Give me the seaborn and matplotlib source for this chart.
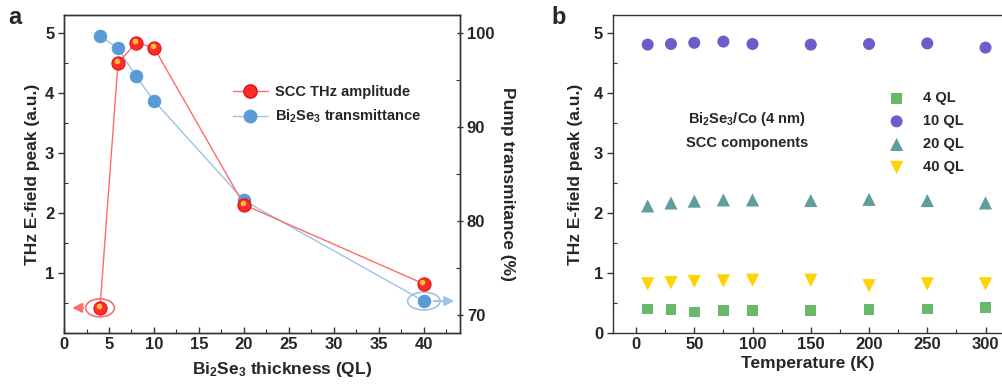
import matplotlib
matplotlib.use("Agg")
import matplotlib.pyplot as plt
import numpy as np
import pandas as pd
import seaborn as sns
from matplotlib.patches import Ellipse
from matplotlib.lines import Line2D
from matplotlib.ticker import AutoMinorLocator

sns.set_style("ticks")
plt.rcParams["font.family"] = ["Liberation Sans", "DejaVu Sans"]
plt.rcParams["font.weight"] = "bold"
plt.rcParams["axes.labelweight"] = "bold"
plt.rcParams["mathtext.fontset"] = "custom"
plt.rcParams["mathtext.rm"] = "Liberation Sans:bold"
plt.rcParams["mathtext.bf"] = "Liberation Sans:bold"
plt.rcParams["mathtext.default"] = "bf"

# panel a data
thickness = [4, 6, 8, 10, 20, 40]
scc_amp = [0.42, 4.50, 4.84, 4.76, 2.14, 0.82]
transmittance = [99.7, 98.4, 95.4, 92.8, 82.2, 71.5]

# panel b data
temps = [10, 30, 50, 75, 100, 150, 200, 250, 300]
ql4 = [0.40, 0.39, 0.35, 0.38, 0.37, 0.37, 0.39, 0.40, 0.42]
ql10 = [4.81, 4.82, 4.84, 4.86, 4.82, 4.81, 4.82, 4.83, 4.76]
ql20 = [2.12, 2.17, 2.20, 2.22, 2.22, 2.21, 2.23, 2.21, 2.17]
ql40 = [0.82, 0.84, 0.86, 0.87, 0.88, 0.88, 0.79, 0.82, 0.82]
series_names = ["4 QL", "10 QL", "20 QL", "40 QL"]

red = "#ff2a2a"
red_line = "#ff6b6b"
blue = "#5b9bd5"
blue_line = "#9fc2e7"

fig = plt.figure(figsize=(10.02, 3.9), dpi=100)
ax = fig.add_axes([0.0639, 0.146, 0.395, 0.815])
ax2 = ax.twinx()
axb = fig.add_axes([0.6115, 0.146, 0.3895, 0.815])

# ---- panel a ----
dfa = pd.DataFrame({"x": thickness, "amp": scc_amp, "tr": transmittance})
sns.lineplot(data=dfa, x="x", y="tr", ax=ax2, color=blue_line, lw=1.0,
             marker="o", markersize=9, markerfacecolor=blue, markeredgecolor=blue)
sns.lineplot(data=dfa, x="x", y="amp", ax=ax, color=red_line, lw=1.0,
             marker="o", markersize=9.5, markerfacecolor=red, markeredgecolor="#e01010")
# sphere highlight
ax.plot(dfa["x"] - 0.15, dfa["amp"] + 0.03, "o", ms=4, color="#ffc040", mec="none", zorder=5)
ax.set_zorder(ax2.get_zorder() + 1)
ax.patch.set_visible(False)

ax.set_xlim(0, 44)
ax.set_ylim(0, 5.3)
ax2.set_ylim(68.1, 101.9)
ax.set_xticks(range(0, 45, 5))
ax.set_yticks([1, 2, 3, 4, 5])
ax2.set_yticks([70, 80, 90, 100])
ax.set_xlabel(r"Bi$_2$Se$_3$ thickness (QL)", fontsize=12.5, labelpad=3)
ax.xaxis.set_label_coords(0.55, -0.085)
ax.set_ylabel("THz E-field peak (a.u.)", fontsize=12.5, labelpad=4)
ax2.set_ylabel("Pump transmitance (%)", fontsize=12.5, rotation=270, labelpad=11)
ax2.yaxis.set_label_coords(1.14, 0.47)

# indicator ellipses and arrows
ax.add_patch(Ellipse((thickness[0], scc_amp[0]), 3.2, 0.3, fill=False, ec=red_line, lw=1.2, zorder=4))
ax.annotate("", xy=(0.6, scc_amp[0]), xytext=(thickness[0] - 1.6, scc_amp[0]),
            arrowprops=dict(arrowstyle="-|>", color=red_line, lw=1.5, mutation_scale=14))
ax2.add_patch(Ellipse((thickness[-1], transmittance[-1]), 3.6, 1.9, fill=False, ec=blue_line, lw=1.2))
ax2.annotate("", xy=(43.7, transmittance[-1]), xytext=(thickness[-1] + 0.8, transmittance[-1]),
             arrowprops=dict(arrowstyle="-|>", color=blue_line, lw=1.5, mutation_scale=14))

h1 = Line2D([], [], color=red_line, lw=1.0, marker="o", ms=9.5, mfc=red, mec="#e01010")
h2 = Line2D([], [], color=blue_line, lw=1.0, marker="o", ms=9, mfc=blue, mec=blue)
ax.legend([h1, h2], ["SCC THz amplitude", r"Bi$_2$Se$_3$ transmittance"],
          loc="upper left", bbox_to_anchor=(0.225, 0.80), bbox_transform=fig.transFigure,
          frameon=False, fontsize=10.5, handlelength=2.4, labelspacing=0.6,
          borderpad=0, handletextpad=0.5)

# ---- panel b ----
dfb = pd.DataFrame({
    "T": temps * 4,
    "E": ql4 + ql10 + ql20 + ql40,
    "s": sum([[n] * len(temps) for n in series_names], []),
})
palette = {"4 QL": "#6cb86a", "10 QL": "#6a5fc8", "20 QL": "#5f9e9c", "40 QL": "#ffd200"}
markers = {"4 QL": "s", "10 QL": "o", "20 QL": "^", "40 QL": "v"}
sizes = {"4 QL": 60, "10 QL": 75, "20 QL": 90, "40 QL": 90}
for name in series_names:
    sub = dfb[dfb["s"] == name]
    sns.scatterplot(data=sub, x="T", y="E", ax=axb, color=palette[name], marker=markers[name],
                    s=sizes[name], edgecolor="none", label=name)
axb.set_xlim(-20, 315)
axb.set_ylim(0, 5.3)
axb.set_xticks([0, 50, 100, 150, 200, 250, 300])
axb.set_yticks([0, 1, 2, 3, 4, 5])
axb.set_xlabel("Temperature (K)", fontsize=12.5, labelpad=3)
axb.set_ylabel("THz E-field peak (a.u.)", fontsize=12.5, labelpad=8)
axb.text(95, 3.57, r"Bi$_2$Se$_3$/Co (4 nm)", ha="center", va="center", fontsize=10.5)
axb.text(95, 3.17, "SCC components", ha="center", va="center", fontsize=10.5)
axb.legend(loc="upper left", bbox_to_anchor=(0.873, 0.785), bbox_transform=fig.transFigure,
           frameon=False, fontsize=10.5, handletextpad=0.8, labelspacing=0.62, borderpad=0)

# ticks and spines
for a in (ax, ax2, axb):
    a.tick_params(axis="both", labelsize=12, width=1.0, length=4, color="#333333", pad=3)
    for sp in a.spines.values():
        sp.set_linewidth(1.0)
        sp.set_color("#333333")
    for lab in a.get_xticklabels() + a.get_yticklabels():
        lab.set_fontweight("bold")
ax.tick_params(axis="x", direction="in")
axb.tick_params(axis="x", direction="in")
ax.tick_params(axis="y", direction="out")
ax2.tick_params(axis="y", direction="inout")
axb.tick_params(axis="y", direction="out")
ax.xaxis.set_minor_locator(AutoMinorLocator(2))
ax.yaxis.set_minor_locator(AutoMinorLocator(2))
ax2.yaxis.set_minor_locator(AutoMinorLocator(2))
axb.xaxis.set_minor_locator(AutoMinorLocator(2))
axb.yaxis.set_minor_locator(AutoMinorLocator(2))
for a in (ax, ax2, axb):
    a.tick_params(which="minor", direction="in", length=3, width=0.8, color="#333333")
    a.spines["top"].set_visible(True)
axb.spines["right"].set_visible(True)

fig.text(0.015, 0.955, "a", fontsize=17, fontweight="bold", va="center", ha="center")
fig.text(0.558, 0.955, "b", fontsize=17, fontweight="bold", va="center", ha="center")

fig.savefig("out.png", dpi=100)
